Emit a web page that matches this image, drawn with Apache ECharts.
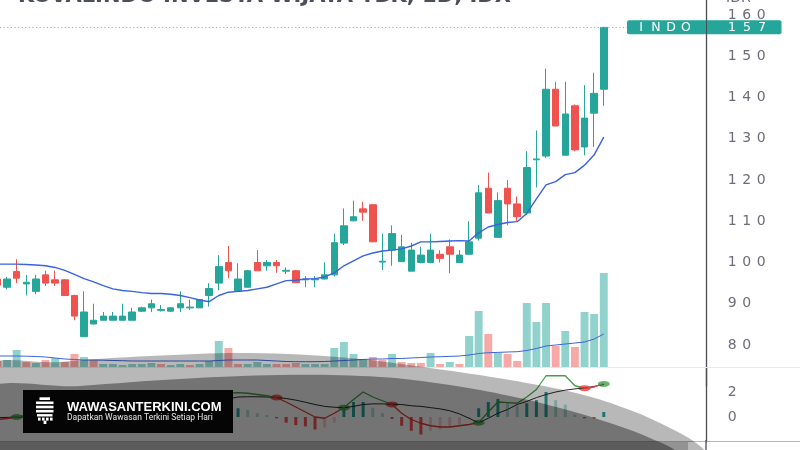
<!DOCTYPE html>
<html>
<head>
<meta charset="utf-8">
<script src="https://cdn.jsdelivr.net/npm/echarts@6.0.0/dist/echarts.min.js"></script>
<style>
html,body{margin:0;padding:0;background:#ffffff;}
#chart{width:800px;height:450px;}
</style>
</head>
<body>
<div id="chart"></div>
<script>
// ---------------- data ----------------
const title = 'KOVALINDO INVESTA WIJAYA TBK, 1D, IDX';
const tickerLabel = 'INDO';
const currencyLabel = 'IDR';
const brandName = 'WAWASANTERKINI.COM';
const brandTagline = 'Dapatkan Wawasan Terkini Setiap Hari';

const open  = [96,94,97.8,94.8,93,97,95.8,95.8,92,82,85.1,86,86,86,86,88.2,89,88.4,88.2,89,89,89,92,95,100,93,94,100,99.2,100,97.9,98,95.8,95.8,96,97,104.7,110.1,113,114,100.1,103,100.2,97.9,100,100,102,103.8,100,102,105.9,118,106.1,118,114.2,112,124.9,125.8,142,126,138,128,136.2,142];
const close = [94.5,96,96.2,95.2,96,95,95,92,87,88,86,87,87,87,88,89,90,88.6,89,90,89.2,91,93.7,99,98,96,98,98,100,99.2,98.1,95.1,96,96,97,104.8,108.9,111.1,112.2,105,100.3,107,103.8,103,101.8,103,101,102,101.8,105,116.9,112,115,114.2,111.1,123,125.1,142,133.1,136,127.3,135,141,157];
const low   = [94,93.5,95,92,92.3,94.3,94.3,92,86,82,85,86,86,86,86,88,88,88.1,88,88,88.5,89,89.3,93.3,96.2,93,94,98,98,97.5,97.2,95,94,94,95.9,96.6,104.2,110,110.1,105,98.2,99.2,100.2,97.9,99.8,99.8,100,97.4,100,102,105.3,112,106,109,110,111.5,118.2,125.3,133,126,127,126,128,138];
const high  = [96.5,96.5,100.8,97,97,98,98,96,92.2,93,90,88,88,90,89,89.3,91,89.7,89.2,93,91,91,95,101.8,104,99.8,98.2,103,100.6,100.6,98.8,98.2,96.7,96.7,100,107,113.1,115,114.7,114,107,109,106.7,104.8,103.8,107,103,105.6,103,110,118.8,121.8,117,120,116,127,132,147,143.8,143.8,138.3,143,146,157];
const priceMA = [99.6,99.6,99.6,99.5,99.4,99.2,98.8,98.1,97.1,96.1,95.3,94.4,93.6,93.2,93.0,92.7,92.5,92.5,92.3,92.0,91.5,90.9,90.5,92.0,92.8,93.0,93.2,93.6,94.0,94.8,95.6,95.7,96.0,96.1,96.5,97.5,99.2,100.4,101.6,102.3,102.8,103.0,103.3,104.0,105.0,105.0,105.1,105.2,105.3,105.2,107.2,108.6,109.2,109.7,109.9,111.9,115.4,118.8,119.6,121.3,121.8,123.6,126.1,130.4];
const volume = [6,7,17,5,4,7,9,5,13,10,7,3,3,2,3,3,4,3,2,3,2,3,6,26,19,3,3,5,3,3,3,4,3,3,3,19,25,13,8,10,7,13,5,4,4,14,3,5,3,31,56,33,14,13,6,64,45,64,21,36,20,55,53,94];
const volumeMA = [11,11,11,10.8,10.5,10,9,8,7.5,7,7,6.8,6.5,6.3,6,6,6,6,6,6,6,6,6,6.5,7,7,7,7,6.5,6,5.5,5.3,5.3,5.3,5.5,6,6.5,7,7.5,8,8,8.5,8.5,9,9.5,10,10.3,10.6,11,12,13.5,14.3,14.6,15,15.3,16.5,18.5,21,22,23,24,25,28,33];
const macdLine = [-0.2,-0.12,0.0,0.15,0.25,0.3,0.3,0.1,-0.3,-0.8,-0.9,-0.9,-0.85,-0.75,-0.6,-0.45,-0.3,-0.2,-0.1,0.1,0.3,0.5,0.9,1.5,1.9,1.95,1.9,1.8,1.7,1.55,1.2,0.8,0.4,0.0,-0.1,0.3,0.75,1.4,2.0,1.6,1.3,1.0,0.3,-0.2,-0.5,-0.7,-0.8,-0.8,-0.7,-0.6,-0.45,0.4,1.2,1.15,1.1,1.6,2.2,3.3,3.3,3.3,2.5,2.3,2.4,2.7];
const signalLine = [-0.05,-0.03,-0.01,0.02,0.08,0.14,0.18,0.16,0.06,-0.12,-0.28,-0.4,-0.49,-0.54,-0.55,-0.53,-0.48,-0.42,-0.35,-0.25,-0.1,0.2,0.55,1.05,1.45,1.6,1.62,1.62,1.6,1.56,1.48,1.35,1.18,1.0,0.85,0.78,0.74,0.85,1.0,1.05,1.05,1.02,1.0,0.9,0.85,0.75,0.65,0.5,0.25,-0.1,-0.46,-0.1,0.3,0.6,1.0,1.25,1.55,1.8,2.0,2.15,2.25,2.32,2.45,2.6];
const macdHist = [-0.15,-0.1,0.05,0.12,0.17,0.16,0.12,-0.05,-0.35,-0.68,-0.62,-0.5,-0.36,-0.21,-0.05,0.08,0.18,0.22,0.25,0.35,0.4,0.3,0.35,0.45,0.45,0.7,0.55,0.3,0.15,-0.1,-0.45,-0.65,-0.75,-1.0,-0.85,-0.45,0.7,1.2,1.2,0.75,0.3,-0.15,-0.7,-1.1,-1.4,-1.1,-1.0,-0.8,-0.6,-0.1,0.7,1.2,1.45,1.2,0.9,1.1,1.35,2.0,1.35,1.0,0.2,-0.1,-0.12,0.4];
const crossUp = [[2,0.0],[36,0.75],[50,-0.46],[63,2.65]];
const crossDown = [[29,1.56],[41,1.01],[61,2.31]];
const priceTicks = [80,90,100,110,120,130,140,150,160];
const macdTicks = [0,2];

// ---------------- styling / layout ----------------
const UP = '#26a69a', DOWN = '#ef5350';
const GREEN = '#43a047', RED = '#e53935';
const N = open.length;
const X_MIN = 0.27, X_MAX = 73.62;   // visible session range (first candle cut by the left edge)
const LEFT = 0, RIGHT = 94;
const LABEL_GRAY = '#6b6e78';
const AXIS_DARK = '#4a4d55';

const idx = open.map((_, i) => i);   // session index on the time axis
const candleData = open.map((o, i) => [idx[i], o, close[i], low[i], high[i]]);
const volData = volume.map((v, i) => {
  const up = i === 0 ? close[i] >= open[i] : close[i] >= close[i - 1];
  return { value: [idx[i], v], itemStyle: { color: up ? 'rgba(38,166,154,0.5)' : 'rgba(239,83,80,0.5)' } };
});
const histData = macdHist.map((h, i) => {
  const prev = i === 0 ? 0 : macdHist[i - 1];
  let c;
  if (h >= 0) c = h >= prev ? '#26a69a' : '#b2dfdb';
  else c = h < prev ? '#ff5252' : '#ffcdd2';
  return { value: [idx[i], h], itemStyle: { color: c } };
});
const pair = arr => arr.map((v, i) => [idx[i], v]);
// colour runs of the MACD line (green above signal, red below)
const state = macdLine.map((m, i) => (m >= signalLine[i] ? 1 : 0));
const pieces = [];
let runStart = 0;
for (let i = 1; i <= N; i++) {
  if (i === N || state[i] !== state[runStart]) {
    pieces.push({ gte: runStart === 0 ? -10 : runStart - 0.5, lt: i === N ? 1000 : i - 0.5, color: state[runStart] ? GREEN : RED });
    runStart = i;
  }
}

function spread(str, tok) { return String(str).split('').map(c => '{' + tok + '|' + c + '}').join(''); }
const digitRich = { d: { width: 14.5, align: 'center', fontSize: 14, fontFamily: 'DejaVu Sans', color: LABEL_GRAY } };

const xCommon = (gi) => ({ type: 'value', gridIndex: gi, min: X_MIN, max: X_MAX, show: false });

const chart = echarts.init(document.getElementById('chart'), null, { renderer: 'canvas' });
chart.setOption({
  animation: false,
  backgroundColor: '#ffffff',
  grid: [
    { left: LEFT, right: RIGHT, top: 0, bottom: 63.75 },
    { left: LEFT, right: RIGHT, top: 267, bottom: 83 },
    { left: LEFT, right: RIGHT, top: 367, bottom: 8 }
  ],
  xAxis: [xCommon(0), xCommon(1), xCommon(2)],
  yAxis: [
    { type: 'value', gridIndex: 0, position: 'right', min: 70, max: 163.636, interval: 10,
      axisLine: { show: true, lineStyle: { color: AXIS_DARK, width: 1.3 } }, axisTick: { show: false }, splitLine: { show: false },
      axisLabel: { margin: 19, showMaxLabel: false, formatter: v => priceTicks.includes(v) ? spread(v, 'd') : '', rich: digitRich } },
    { type: 'value', gridIndex: 1, min: 0, max: 100, show: false },
    { type: 'value', gridIndex: 2, position: 'right', min: -2, max: 4, interval: 2,
      axisLine: { show: true, lineStyle: { color: AXIS_DARK, width: 1.3 } }, axisTick: { show: false }, splitLine: { show: false },
      axisLabel: { margin: 19, formatter: v => macdTicks.includes(v) ? spread(v, 'd') : '', rich: digitRich } }
  ],
  visualMap: [{ type: 'piecewise', show: false, seriesIndex: 6, dimension: 0, pieces: pieces }],
  series: [
    { type: 'bar', xAxisIndex: 1, yAxisIndex: 1, data: volData, barWidth: 7.9 },
    { type: 'line', xAxisIndex: 1, yAxisIndex: 1, data: pair(volumeMA), showSymbol: false, lineStyle: { color: '#3d63dd', width: 1 } },
    { type: 'candlestick', xAxisIndex: 0, yAxisIndex: 0, data: candleData, barWidth: 7,
      itemStyle: { color: UP, color0: DOWN, borderColor: UP, borderColor0: DOWN, borderWidth: 1 },
      markLine: {
        silent: true, symbol: ['none', 'none'], animation: false,
        lineStyle: { color: '#6cc7be', type: [1.2, 2.4], width: 1, opacity: 1 },
        data: [{ yAxis: close[N - 1] }],
        label: {
          show: true, position: 'end', distance: [-79, 0],
          backgroundColor: UP, borderRadius: 2, padding: 0,
          formatter: () => '{p1| }' + spread(tickerLabel, 'c') + '{p2| }{s| }{p3| }' + spread(close[N - 1], 'c') + '{p4| }',
          rich: {
            c: { width: 15, align: 'center', color: '#ffffff', fontSize: 12.5, fontFamily: 'DejaVu Sans', height: 14, lineHeight: 14 },
            p1: { width: 6.5, height: 14 }, p2: { width: 12.5, height: 14 },
            s: { width: 1, height: 14, backgroundColor: AXIS_DARK },
            p3: { width: 17.5, height: 14 }, p4: { width: 12, height: 14 }
          }
        }
      }
    },
    { type: 'line', xAxisIndex: 0, yAxisIndex: 0, data: pair(priceMA), showSymbol: false, lineStyle: { color: '#3b62e0', width: 1.4 } },
    { type: 'bar', xAxisIndex: 2, yAxisIndex: 2, data: histData, barWidth: 3 },
    { type: 'line', xAxisIndex: 2, yAxisIndex: 2, data: pair(signalLine), showSymbol: false, lineStyle: { color: '#2b2b2b', width: 1 } },
    { type: 'line', xAxisIndex: 2, yAxisIndex: 2, data: pair(macdLine), showSymbol: false, lineStyle: { width: 1.3 } },
    { type: 'scatter', xAxisIndex: 2, yAxisIndex: 2, data: crossUp, symbol: 'circle', symbolSize: [12, 6], itemStyle: { color: GREEN } },
    { type: 'scatter', xAxisIndex: 2, yAxisIndex: 2, data: crossDown, symbol: 'circle', symbolSize: [12, 6], itemStyle: { color: RED } }
  ],
  graphic: [
    // pane separators
    { type: 'line', z: 90, shape: { x1: 0, y1: 367.5, x2: 800, y2: 367.5 }, style: { stroke: '#e6e8ed', lineWidth: 1 } },
    { type: 'line', z: 90, shape: { x1: 0, y1: 441.5, x2: 800, y2: 441.5 }, style: { stroke: '#b5b7bd', lineWidth: 1 } },
    { type: 'line', z: 90, shape: { x1: 706, y1: 440, x2: 706, y2: 450 }, style: { stroke: AXIS_DARK, lineWidth: 1.3 } },
    // title (cut by the top edge) and currency
    { type: 'text', z: 120, x: 18, y: -3, style: { text: title, font: 'bold 21px "DejaVu Sans"', fill: '#4b4f5a', verticalAlign: 'middle' } },
    { type: 'text', z: 120, x: 726, y: -2, style: { text: currencyLabel, font: '14px "DejaVu Sans"', fill: LABEL_GRAY, verticalAlign: 'middle' } },
    // dark watermark ellipse layers
    { type: 'polygon', z: 100, shape: { smooth: 0.35, points: [[-20,371],[60,362],[150,356],[250,353],[350,358],[430,368],[510,380],[580,394],[630,410],[670,428],[700,446],[720,470],[740,520],[-20,520]] }, style: { fill: 'rgba(0,0,0,0.28)' } },
    { type: 'polygon', z: 101, shape: { smooth: 0.35, points: [[-20,394],[80,386],[180,379],[280,375],[380,377],[450,385],[510,396],[560,408],[610,423],[650,438],[680,456],[700,520],[-20,520]] }, style: { fill: 'rgba(0,0,0,0.37)' } },
    { type: 'rect', z: 102, shape: { x: 0, y: 442, width: 688, height: 10 }, style: { fill: 'rgba(0,0,0,0.2)' } },
    // watermark badge
    { type: 'rect', z: 110, shape: { x: 23, y: 390, width: 210, height: 43 }, style: { fill: '#050505' } },
    { type: 'rect', z: 111, shape: { x: 39.5, y: 397.3, width: 10.5, height: 2.7 }, style: { fill: '#ffffff' } },
    { type: 'rect', z: 111, shape: { x: 36, y: 401.5, width: 17.5, height: 2.6 }, style: { fill: '#ffffff' } },
    { type: 'rect', z: 111, shape: { x: 36, y: 405.7, width: 17.5, height: 2.6 }, style: { fill: '#ffffff' } },
    { type: 'rect', z: 111, shape: { x: 36, y: 409.9, width: 17.5, height: 2.6 }, style: { fill: '#ffffff' } },
    { type: 'rect', z: 111, shape: { x: 37, y: 414.1, width: 15.5, height: 2.4 }, style: { fill: '#ffffff' } },
    { type: 'rect', z: 111, shape: { x: 38, y: 417.6, width: 2.6, height: 3 }, style: { fill: '#ffffff' } },
    { type: 'rect', z: 111, shape: { x: 42, y: 417.6, width: 2.6, height: 3 }, style: { fill: '#ffffff' } },
    { type: 'rect', z: 111, shape: { x: 46, y: 417.6, width: 2.6, height: 3 }, style: { fill: '#ffffff' } },
    { type: 'rect', z: 111, shape: { x: 50, y: 417.6, width: 2.6, height: 3 }, style: { fill: '#ffffff' } },
    { type: 'rect', z: 111, shape: { x: 43.6, y: 420.6, width: 2.8, height: 3.4 }, style: { fill: '#ffffff' } },
    { type: 'text', z: 111, x: 67, y: 407.5, style: { text: brandName, font: 'bold 13px "Liberation Sans"', fill: '#ffffff', verticalAlign: 'middle' } },
    { type: 'text', z: 111, x: 67, y: 418, style: { text: brandTagline, font: '8.5px "Roboto"', fill: '#e6e6e6', verticalAlign: 'middle' } }
  ]
});
</script>
</body>
</html>
